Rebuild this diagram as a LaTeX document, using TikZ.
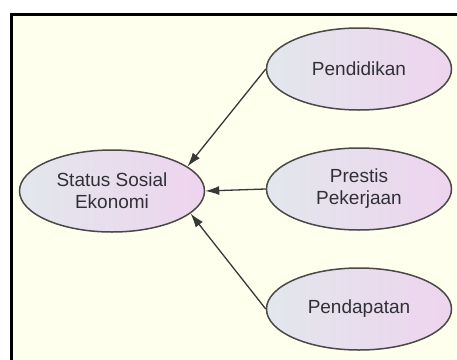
\documentclass[tikz,border=0pt]{standalone}
\usepackage{fontspec}
\setmainfont{Liberation Sans}
\usetikzlibrary{shapes.geometric, arrows.meta, positioning}

\definecolor{cream}{RGB}{255,255,238}
\definecolor{ovalleft}{RGB}{226,231,236}
\definecolor{ovalright}{RGB}{238,212,238}
\definecolor{ovalline}{RGB}{75,72,72}
\definecolor{textgray}{RGB}{50,48,55}

\tikzset{
  construct/.style={ellipse, draw=ovalline, line width=1.5pt,
    left color=ovalleft, right color=ovalright,
    minimum width=185pt, minimum height=82pt, inner sep=0pt,
    align=center, text=textgray, font=\fontsize{19}{22}\selectfont},
  path/.style={draw=black!78, line width=1.3pt, -{Latex[length=14pt,width=9pt]}}
}

\begin{document}
\begin{tikzpicture}[x=1pt, y=-1pt]
  \useasboundingbox (0,0) rectangle (457,359);
  \fill[white] (0,0) rectangle (457,359);
  \begin{scope}
    \clip (0,0) rectangle (457,359);
    \fill[cream] (11,14) rectangle (470,370);
    \draw[line width=3pt] (11,14) rectangle (470,370);
  \end{scope}

  % variabel
  \node[construct] (ses) at (112,191) {Status Sosial\\Ekonomi};
  \node[construct] (pendidikan) at (359,69) {Pendidikan};
  \node[construct] (prestis) at (359,189) {Prestis\\Pekerjaan};
  \node[construct] (pendapatan) at (359,309) {Pendapatan};

  % indikator ke variabel
  \draw[path] (pendidikan.west) -- (ses.18);
  \draw[path] (prestis.west) -- (ses.east);
  \draw[path] (pendapatan.west) -- (ses.-16);
\end{tikzpicture}
\end{document}
